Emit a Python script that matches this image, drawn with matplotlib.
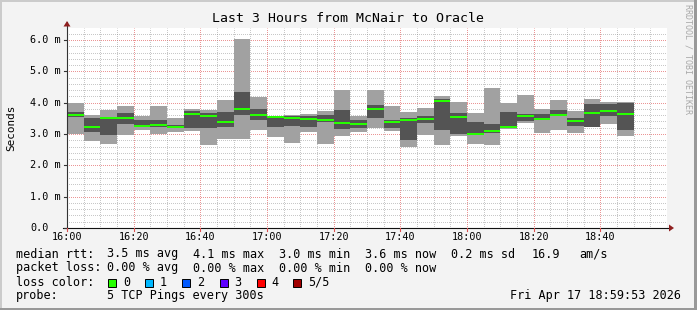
import matplotlib
matplotlib.use('Agg')
import matplotlib.pyplot as plt
from matplotlib import transforms
from matplotlib.patches import Rectangle, Polygon
from matplotlib.lines import Line2D

W, H, DPI = 697, 310, 100

# ---- data (milliseconds), 5-minute intervals starting at 16:00 ----
start_minutes = list(range(0, 170, 5))
rtt_max = [4.00, 3.61, 3.78, 3.89, 3.57, 3.89, 3.51, 3.79, 3.77, 4.09, 6.03, 4.19,
           3.58, 3.61, 3.63, 3.75, 4.40, 3.57, 4.40, 3.89, 3.71, 3.83, 4.21, 4.02,
           3.66, 4.46, 4.00, 4.24, 3.79, 4.09, 3.75, 4.12, 4.01, 4.02]
rtt_p4 = [3.70, 3.50, 3.55, 3.67, 3.45, 3.45, 3.30, 3.72, 3.66, 3.70, 4.35, 3.80,
          3.56, 3.57, 3.57, 3.61, 3.77, 3.45, 3.93, 3.45, 3.52, 3.57, 4.11, 3.67,
          3.39, 3.32, 3.70, 3.64, 3.64, 3.77, 3.50, 3.96, 3.95, 4.00]
rtt_median = [3.62, 3.23, 3.52, 3.50, 3.26, 3.30, 3.23, 3.65, 3.57, 3.39, 3.81, 3.62,
              3.55, 3.52, 3.49, 3.45, 3.36, 3.32, 3.81, 3.38, 3.46, 3.49, 4.05, 3.55,
              3.00, 3.11, 3.23, 3.57, 3.49, 3.62, 3.43, 3.68, 3.75, 3.64]
rtt_p2 = [3.53, 3.05, 2.97, 3.32, 3.21, 3.23, 3.18, 3.20, 3.18, 3.23, 3.61, 3.45,
          3.21, 3.26, 3.23, 3.39, 3.17, 3.18, 3.50, 3.20, 2.82, 3.36, 3.13, 2.99,
          2.96, 3.02, 3.18, 3.42, 3.45, 3.57, 3.26, 3.23, 3.57, 3.14]
rtt_min = [3.00, 2.79, 2.68, 2.97, 3.13, 3.00, 3.08, 3.10, 2.65, 2.85, 2.85, 3.14,
           2.91, 2.72, 3.07, 2.68, 2.94, 3.07, 3.19, 3.10, 2.60, 2.96, 2.65, 2.95,
           2.68, 2.65, 3.17, 3.36, 3.03, 3.13, 3.03, 3.22, 3.32, 2.94]

x_tick_minutes = [0, 20, 40, 60, 80, 100, 120, 140, 160]
x_tick_labels = ['16:00', '16:20', '16:40', '17:00', '17:20', '17:40', '18:00', '18:20', '18:40']
y_tick_values = [0, 1, 2, 3, 4, 5, 6]
y_tick_labels = ['0.0', '1.0 m', '2.0 m', '3.0 m', '4.0 m', '5.0 m', '6.0 m']

title = 'Last 3 Hours from McNair to Oracle'
legend_rtt = [('median rtt:', 16), ('3.5 ms avg', 107), ('4.1 ms max', 193), ('3.0 ms min', 279),
              ('3.6 ms now', 365), ('0.2 ms sd', 451), ('16.9', 532), ('am/s', 579)]
legend_loss = [('packet loss:', 16), ('0.00 % avg', 107), ('0.00 % max', 193),
               ('0.00 % min', 279), ('0.00 % now', 365)]
loss_labels = ['0', '1', '2', '3', '4', '5/5']
loss_colors = ['#26ff00', '#00b8ff', '#0059ff', '#5e00ff', '#ff0000', '#a10000']

MONO = 'DejaVu Sans Mono'
plt.rcParams['font.family'] = [MONO, 'DejaVu Sans']

fig = plt.figure(figsize=(W / DPI, H / DPI), dpi=DPI, facecolor='#f3f3f3')
PX = transforms.Affine2D().scale(1.0 / W, -1.0 / H).translate(0, 1) + fig.transFigure

# frame shading
for (x0, y0, w, h, c) in [(0, 0, W, 2, '#cbcbcb'), (0, 0, 2, H, '#cbcbcb'),
                          (0, H - 2, W, 2, '#999999'), (W - 3, 0, 3, H, '#999999')]:
    fig.add_artist(Rectangle((x0, y0), w, h, transform=PX, facecolor=c, edgecolor='none', zorder=0))

px_per_unit = 31.33
ax = fig.add_axes([67 / W, 1 - 228 / H, 600 / W, 200 / H])
ax.set_facecolor('white')
ax.set_xlim(0, 180)
ax.set_ylim(0, 200 / px_per_unit)
for s in ax.spines.values():
    s.set_visible(False)
ax.set_xticks([])
ax.set_yticks([])

# smoke
ax.bar(start_minutes, [a - b for a, b in zip(rtt_max, rtt_min)], bottom=rtt_min, width=5,
       align='edge', color='#a1a1a1', linewidth=0, zorder=2, antialiased=False)
ax.bar(start_minutes, [a - b for a, b in zip(rtt_p4, rtt_p2)], bottom=rtt_p2, width=5,
       align='edge', color='#545454', linewidth=0, zorder=2.5, antialiased=False)
ax.hlines(rtt_median, start_minutes, [s + 5 for s in start_minutes], colors='#26ff00',
          linewidth=1.44, zorder=3)

# grid (dotted 1px on / 1px off, beneath the smoke)
minor_c = (0.50, 0.50, 0.50, 0.43)
major_c = (0.87, 0.31, 0.31, 0.60)
ls = (0.5, (1, 1))
k = 1
while k * 0.2 < 200 / px_per_unit:
    v = k * 0.2
    c = major_c if k % 5 == 0 else minor_c
    ax.axhline(v, color=c, linewidth=0.72, linestyle=ls, zorder=1, snap=True)
    k += 1
for m in range(5, 180, 5):
    c = major_c if m % 20 == 0 else minor_c
    ax.axvline(m, color=c, linewidth=0.72, linestyle=ls, zorder=1, snap=True)

# axes lines and arrows
fig.add_artist(Line2D([67, 67], [228.5, 22], transform=PX, color='#333333', linewidth=0.8, zorder=6))
fig.add_artist(Line2D([63, 670], [228, 228], transform=PX, color='#111111', linewidth=0.8, zorder=6))
fig.add_artist(Polygon([(63.5, 26.5), (70.5, 26.5), (67, 21)], closed=True, transform=PX,
                       facecolor='#8f1f1f', edgecolor='none', zorder=7))
fig.add_artist(Polygon([(669, 224.5), (669, 231.5), (674, 228)], closed=True, transform=PX,
                       facecolor='#8f1f1f', edgecolor='none', zorder=7))

# tick marks
BY = transforms.blended_transform_factory(PX, ax.transData)
BX = transforms.blended_transform_factory(ax.transData, PX)
for v in y_tick_values:
    fig.add_artist(Line2D([64, 67], [v, v], transform=BY, color='#333333', linewidth=0.8, zorder=6))
for m in x_tick_minutes:
    fig.add_artist(Line2D([m, m], [228, 231], transform=BX, color='#de5050', linewidth=0.8, zorder=6))

# tick labels
for v, lab in zip(y_tick_values, y_tick_labels):
    fig.text(30, v, lab, transform=BY, ha='left', va='center', fontsize=7.3, family=MONO)
for m, lab in zip(x_tick_minutes, x_tick_labels):
    fig.text(m, 237.5, lab, transform=BX, ha='center', va='center', fontsize=7.3, family=MONO)

# title & axis label
fig.text(348.5, 19, title, transform=PX, ha='center', va='center', fontsize=9.5, family=MONO)
fig.text(11, 128, 'Seconds', transform=PX, ha='center', va='center', rotation=90,
         fontsize=7.9, family=MONO)
fig.text(688, 4, 'RRDTOOL / TOBI OETIKER', transform=PX, ha='center', va='top', rotation=270,
         fontsize=6.0, family=MONO, color='#a8a8a8')

# legend
LF = 8.5
for s, x in legend_rtt:
    fig.text(x, 254, s, transform=PX, ha='left', va='center', fontsize=LF, family=MONO)
for s, x in legend_loss:
    fig.text(x, 268, s, transform=PX, ha='left', va='center', fontsize=LF, family=MONO)
fig.text(16, 282, 'loss color:', transform=PX, ha='left', va='center', fontsize=LF, family=MONO)
box_x = [108, 145, 182, 219.5, 256.5, 293]
for bx, lab, col in zip(box_x, loss_labels, loss_colors):
    fig.add_artist(Rectangle((bx, 278.5), 8, 8, transform=PX, facecolor=col,
                             edgecolor='black', linewidth=0.7, zorder=5))
    fig.text(bx + 15, 282, lab, transform=PX, ha='left', va='center', fontsize=LF, family=MONO)
fig.text(16, 296, 'probe:', transform=PX, ha='left', va='center', fontsize=LF, family=MONO)
fig.text(107, 296, '5 TCP Pings every 300s', transform=PX, ha='left', va='center', fontsize=LF, family=MONO)
fig.text(681, 296, 'Fri Apr 17 18:59:53 2026', transform=PX, ha='right', va='center', fontsize=LF, family=MONO)

fig.savefig('out.png', dpi=DPI, facecolor=fig.get_facecolor())
